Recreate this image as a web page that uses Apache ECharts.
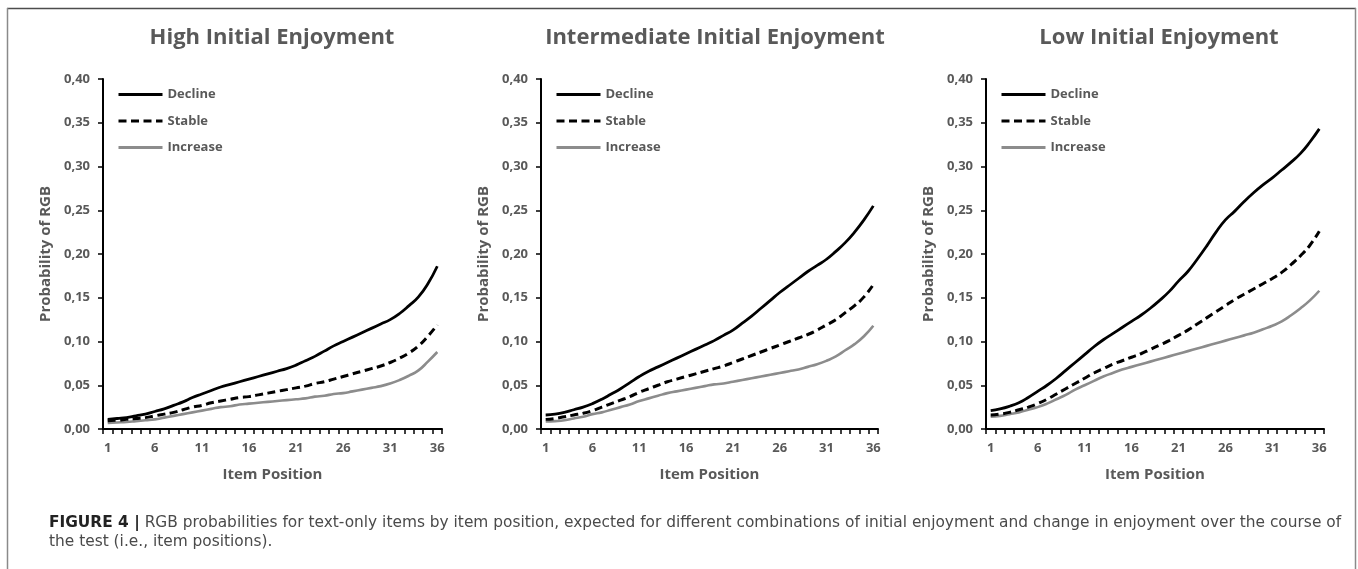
<!DOCTYPE html>
<html>
<head>
<meta charset="utf-8">
<script src="https://cdn.jsdelivr.net/npm/echarts@6/dist/echarts.min.js"></script>
<style>
html,body{margin:0;padding:0;background:#fff;}
#chart{width:1358px;height:569px;}
</style>
</head>
<body>
<div id="chart"></div>
<script>
// ---- data ----
const itemPositions = ['1','2','3','4','5','6','7','8','9','10','11','12','13','14','15','16','17','18','19','20','21','22','23','24','25','26','27','28','29','30','31','32','33','34','35','36'];
const yTicks = [0, 0.05, 0.10, 0.15, 0.20, 0.25, 0.30, 0.35, 0.40];
const panelTitles = ['High Initial Enjoyment', 'Intermediate Initial Enjoyment', 'Low Initial Enjoyment'];
const seriesNames = ['Decline', 'Stable', 'Increase'];

const highDecline = [.011,.012,.013,.015,.017,.020,.023,.027,.031,.036,.040,.044,.048,.051,.054,.057,.060,.063,.066,.069,.073,.078,.083,.089,.095,.100,.105,.110,.115,.120,.125,.132,.141,.151,.166,.186];
const highStable = [.0095,.010,.011,.012,.013,.015,.017,.019,.022,.025,.027,.030,.032,.034,.036,.037,.039,.041,.043,.045,.047,.049,.052,.054,.057,.060,.063,.066,.069,.072,.076,.081,.087,.095,.106,.119];
const highIncrease = [.007,.0075,.008,.009,.010,.011,.013,.015,.017,.019,.021,.023,.025,.026,.028,.029,.030,.031,.032,.033,.034,.035,.037,.038,.040,.041,.043,.045,.047,.049,.052,.056,.061,.067,.077,.088];

const midDecline = [.016,.017,.019,.022,.025,.029,.034,.040,.046,.053,.060,.066,.071,.076,.081,.086,.091,.096,.101,.107,.113,.121,.129,.138,.147,.156,.164,.172,.180,.187,.194,.203,.213,.225,.239,.255];
const midStable = [.011,.012,.014,.016,.018,.021,.025,.029,.033,.037,.042,.046,.050,.054,.057,.060,.063,.066,.069,.072,.076,.080,.084,.088,.092,.096,.100,.104,.108,.113,.119,.125,.133,.141,.151,.165];
const midIncrease = [.0085,.009,.010,.012,.014,.017,.019,.022,.025,.028,.032,.035,.038,.041,.043,.045,.047,.049,.051,.052,.054,.056,.058,.060,.062,.064,.066,.068,.071,.074,.078,.083,.090,.097,.106,.118];

const lowDecline = [.021,.023,.026,.030,.036,.043,.050,.058,.067,.076,.085,.094,.102,.109,.116,.123,.130,.138,.147,.157,.169,.180,.194,.209,.225,.239,.249,.260,.270,.279,.287,.296,.305,.315,.328,.343];
const lowStable = [.016,.017,.019,.022,.025,.029,.034,.040,.046,.052,.058,.064,.069,.074,.078,.082,.086,.091,.096,.101,.107,.113,.120,.127,.134,.141,.148,.154,.160,.166,.172,.179,.188,.198,.210,.226];
const lowIncrease = [.014,.015,.017,.019,.022,.025,.029,.034,.039,.045,.050,.055,.060,.064,.068,.071,.074,.077,.080,.083,.086,.089,.092,.095,.098,.101,.104,.107,.110,.114,.118,.123,.130,.138,.147,.158];

const panelData = [
  [highDecline, highStable, highIncrease],
  [midDecline, midStable, midIncrease],
  [lowDecline, lowStable, lowIncrease]
];

// ---- layout ----
const grids = [
  {left: 103, width: 339, titleX: 267},
  {left: 541, width: 337, titleX: 710},
  {left: 986, width: 338, titleX: 1154}
];
const gridTop = 79, gridHeight = 350;
const labelColor = '#595959';
const fontFam = '"Open Sans", "Liberation Sans", sans-serif';
const capFont = '"DejaVu Sans", "Liberation Sans", Arial, sans-serif';

const lineStyles = [
  {color: '#000', width: 2.8, type: 'solid'},
  {color: '#000', width: 3, type: [8, 4.5]},
  {color: '#8c8c8c', width: 2.6, type: 'solid'}
];

const option = {
  backgroundColor: '#fff',
  animation: false,
  title: grids.map((g, i) => ({
    text: panelTitles[i],
    left: g.titleX,
    top: 22,
    textAlign: 'center',
    textStyle: {fontFamily: fontFam, fontWeight: 'bold', fontSize: 22, color: labelColor}
  })),
  legend: grids.map((g, i) => ({
    orient: 'vertical',
    left: g.left + 14,
    top: 88,
    padding: 0,
    itemWidth: 44,
    itemHeight: 14,
    itemGap: 13.5,
    data: seriesNames,
    selectedMode: false,
    itemStyle: {opacity: 0},
    lineStyle: {width: 3},
    textStyle: {fontFamily: fontFam, fontWeight: 'bold', fontSize: 13, color: labelColor}
  })),
  grid: grids.map(g => ({left: g.left, width: g.width, top: gridTop, height: gridHeight, containLabel: false})),
  xAxis: grids.map((g, i) => ({
    type: 'category',
    gridIndex: i,
    data: itemPositions,
    boundaryGap: true,
    name: 'Item Position',
    nameLocation: 'middle',
    nameGap: 38,
    nameTextStyle: {fontFamily: fontFam, fontWeight: 'bold', fontSize: 15, color: labelColor},
    axisLine: {lineStyle: {color: '#000', width: 2}},
    axisTick: {show: true, interval: 0, length: 5, lineStyle: {color: '#000', width: 1.5}},
    axisLabel: {interval: 4, margin: 13, fontFamily: fontFam, fontWeight: 'bold', fontSize: 13, color: labelColor},
    splitLine: {show: false}
  })),
  yAxis: grids.map((g, i) => ({
    type: 'value',
    gridIndex: i,
    min: yTicks[0],
    max: yTicks[yTicks.length - 1],
    interval: 0.05,
    name: 'Probability of RGB',
    nameLocation: 'middle',
    nameGap: 50,
    nameTextStyle: {fontFamily: fontFam, fontWeight: 'bold', fontSize: 15, color: labelColor},
    axisLine: {show: true, lineStyle: {color: '#000', width: 2}},
    axisTick: {show: true, length: 5, lineStyle: {color: '#000', width: 1.5}},
    axisLabel: {margin: 13, fontFamily: fontFam, fontWeight: 'bold', fontSize: 13, color: labelColor,
      formatter: v => v.toFixed(2).replace('.', ',')},
    splitLine: {show: false}
  })),
  series: [],
  graphic: [
    {type: 'line', shape: {x1: 7, y1: 8.5, x2: 1356, y2: 8.5}, style: {stroke: '#4d4d4d', lineWidth: 1.5}},
    {type: 'line', shape: {x1: 7.5, y1: 8, x2: 7.5, y2: 569}, style: {stroke: '#8a8a8a', lineWidth: 1.5}},
    {type: 'line', shape: {x1: 1355.5, y1: 8, x2: 1355.5, y2: 569}, style: {stroke: '#8a8a8a', lineWidth: 1.5}},
    {type: 'text', left: 49, top: 515,
      style: {
        text: '{b|FIGURE 4 |} RGB probabilities for text-only items by item position, expected for different combinations of initial enjoyment and change in enjoyment over the course of',
        font: '15.4px ' + capFont,
        fill: '#4a4a4a',
        rich: {b: {fontWeight: 'bold', fontSize: 15.4, fontFamily: capFont, fill: '#222'}}
      }},
    {type: 'text', left: 49, top: 534,
      style: {
        text: 'the test (i.e., item positions).',
        font: '15.4px ' + capFont,
        fill: '#4a4a4a'
      }}
  ]
};

panelData.forEach((set, gi) => {
  set.forEach((vals, si) => {
    option.series.push({
      type: 'line',
      name: seriesNames[si],
      xAxisIndex: gi,
      yAxisIndex: gi,
      data: vals,
      smooth: 0.5,
      symbol: 'none',
      itemStyle: {color: lineStyles[si].color},
      lineStyle: lineStyles[si],
      z: 3 - si
    });
  });
});

const chart = echarts.init(document.getElementById('chart'), null, {renderer: 'canvas'});
chart.setOption(option);
</script>
</body>
</html>
